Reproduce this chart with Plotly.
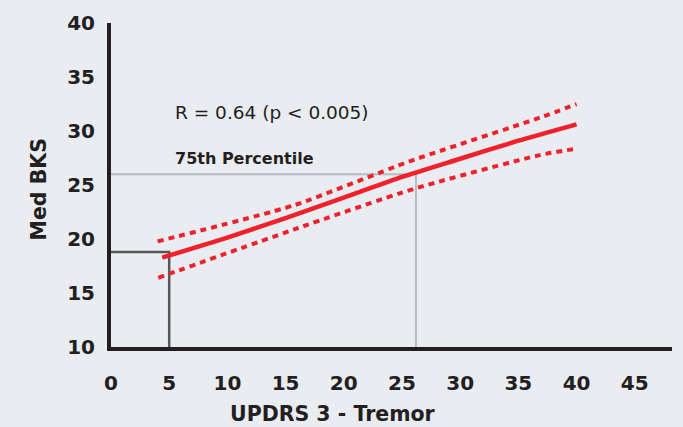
import plotly.graph_objects as go

# Regression line and confidence band
fit_x = [4.4, 10, 15, 20, 25, 30, 35, 40]
fit_y = [18.28, 20.13, 21.94, 23.83, 25.75, 27.43, 29.1, 30.62]

upper_x = [4.0, 15.66, 25.57, 36.83, 40]
upper_y = [19.78, 23.1, 27.16, 31.23, 32.49]

lower_x = [4.06, 15.74, 25.98, 36.83, 40]
lower_y = [16.41, 20.89, 24.63, 27.77, 28.37]

# Reference markers
p75_x = 26.2
p75_y = 26.0
med_x = 5
med_y = 18.8

x_ticks = [0, 5, 10, 15, 20, 25, 30, 35, 40, 45]
y_ticks = [10, 15, 20, 25, 30, 35, 40]

RED = "#f0212b"
BG = "#e9ecf1"
INK = "#231f20"
FONT = "DejaVu Sans"

fig = go.Figure()

# 75th percentile guide (light gray)
fig.add_trace(go.Scatter(x=[0, p75_x, p75_x], y=[p75_y, p75_y, 10], mode="lines",
                         line=dict(color="#b9babd", width=2), hoverinfo="skip"))
# median guide (dark gray)
fig.add_trace(go.Scatter(x=[0, med_x, med_x], y=[med_y, med_y, 10], mode="lines",
                         line=dict(color="#58585a", width=2.5), hoverinfo="skip"))

fig.add_trace(go.Scatter(x=upper_x, y=upper_y, mode="lines",
                         line=dict(color=RED, width=4, dash="6px,5px", shape="spline", smoothing=0.6)))
fig.add_trace(go.Scatter(x=lower_x, y=lower_y, mode="lines",
                         line=dict(color=RED, width=4, dash="6px,5px", shape="spline", smoothing=0.6)))
fig.add_trace(go.Scatter(x=fit_x, y=fit_y, mode="lines",
                         line=dict(color=RED, width=4.5, shape="spline", smoothing=0.6)))

fig.add_annotation(x=5.3, y=31.7, xref="x", yref="y", text="R = 0.64 (p < 0.005)",
                   showarrow=False, xanchor="left", yanchor="middle",
                   font=dict(family=FONT, size=18.5, color=INK))
fig.add_annotation(x=5.3, y=27.45, xref="x", yref="y", text="<b>75th Percentile</b>",
                   showarrow=False, xanchor="left", yanchor="middle",
                   font=dict(family=FONT, size=16, color=INK))

# axis titles (pixel positions converted below)
fig.add_annotation(x=333, y=415, xref="paper", yref="paper", text="<b>UPDRS 3 - Tremor</b>",
                   showarrow=False, xanchor="center", yanchor="middle",
                   font=dict(family=FONT, size=20.5, color=INK))
fig.add_annotation(x=39, y=188, xref="paper", yref="paper", text="<b>Med BKS</b>", textangle=-90,
                   showarrow=False, xanchor="center", yanchor="middle",
                   font=dict(family=FONT, size=20.5, color=INK))

W, H = 683, 427
ML, MR, MT, MB = 111, 11, 20, 80
pw, ph = W - ML - MR, H - MT - MB
for a in fig.layout.annotations:
    if a.xref == "paper":
        a.x = (a.x - ML) / pw
        a.y = 1 - (a.y - MT) / ph

fig.update_layout(
    width=W, height=H,
    margin=dict(l=ML, r=MR, t=MT, b=MB),
    paper_bgcolor=BG, plot_bgcolor=BG,
    showlegend=False,
    xaxis=dict(range=[0, 48.2], tickvals=x_ticks, showgrid=False, zeroline=False,
               showline=True, linecolor=INK, linewidth=4, ticks="", ticklabelstandoff=15,
               tickfont=dict(family=FONT, size=20, color=INK, weight="bold")),
    yaxis=dict(range=[10, 40], tickvals=y_ticks, showgrid=False, zeroline=False,
               showline=True, linecolor=INK, linewidth=4, ticks="", ticklabelstandoff=8,
               tickfont=dict(family=FONT, size=20, color=INK, weight="bold")),
)

fig.write_html("out.html")
